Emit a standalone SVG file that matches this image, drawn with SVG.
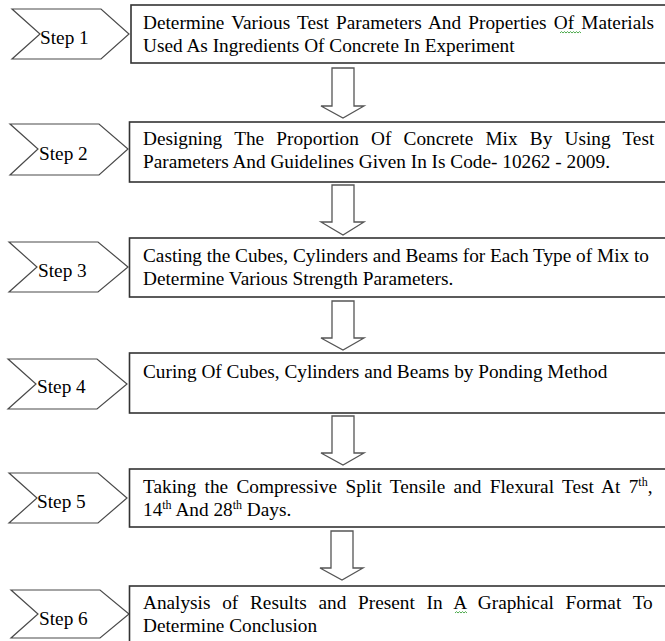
<svg xmlns="http://www.w3.org/2000/svg" width="665" height="641" viewBox="0 0 665 641">
<style>
  .chev { fill: #ffffff; stroke: #4a4a4a; stroke-width: 1.2; stroke-linejoin: miter; }
  .box { fill: #ffffff; stroke: #333333; stroke-width: 1.6; }
  .arrow { fill: #ffffff; stroke: #555555; stroke-width: 1.3; stroke-linejoin: miter; }
  .t { font-family: "Liberation Serif", "Times New Roman", serif; font-size: 19.3px; fill: #000000; }
  .sup { font-size: 12px; }
  .squig { fill: none; stroke: #3aa03a; stroke-width: 0.9; }
</style>
<rect x="0" y="0" width="665" height="641" fill="#ffffff"/>

<g id="connectors">
  <path class="arrow" d="M332,68 H354 V106 H364 L343,118 L321,106 H332 Z"/>
  <path class="arrow" d="M332,185 H354 V222 H364 L343,235 L321,222 H332 Z"/>
  <path class="arrow" d="M332,301 H354 V338 H364 L343,350 L321,338 H332 Z"/>
  <path class="arrow" d="M332,416 H354 V453 H364 L343,465 L321,453 H332 Z"/>
  <path class="arrow" d="M331,531 H353 V568 H363 L342,580 L320,568 H331 Z"/>
</g>

<g id="step1">
  <polygon class="chev" points="12,9 101,9 129,34 101,59 12,59 40,34"/>
  <text class="t" x="40" y="44">Step 1</text>
  <rect class="box" x="131" y="5" width="545" height="58"/>
  <text class="t" x="143" y="29" word-spacing="2.4">Determine Various Test Parameters And Properties Of Materials</text>
  <polyline class="squig" points="560,33 561.5,31.6 563,33 564.5,31.6 566,33 567.5,31.6 569,33 570.5,31.6 572,33 573.5,31.6 575,33 576.5,31.6 578,33 579.5,31.6 581,33"/>
  <text class="t" x="143" y="52">Used As Ingredients Of Concrete In Experiment</text>
</g>

<g id="step2">
  <polygon class="chev" points="10,124 99,124 128,149 99,175 10,175 38,149"/>
  <text class="t" x="39" y="160">Step 2</text>
  <rect class="box" x="129.5" y="122" width="546" height="60"/>
  <text class="t" x="143" y="145" word-spacing="7.4">Designing The Proportion Of Concrete Mix By Using Test</text>
  <text class="t" x="143" y="168">Parameters And Guidelines Given In Is Code- 10262 - 2009.</text>
</g>

<g id="step3">
  <polygon class="chev" points="9,242 98,242 128,267 98,292 9,292 37,267"/>
  <text class="t" x="38" y="277">Step 3</text>
  <rect class="box" x="129.5" y="238" width="546" height="59"/>
  <text class="t" x="143" y="262">Casting the Cubes, Cylinders and Beams for Each Type of Mix to</text>
  <text class="t" x="143" y="285">Determine Various Strength Parameters.</text>
</g>

<g id="step4">
  <polygon class="chev" points="8,359 97,359 127,384 97,409 8,409 36,384"/>
  <text class="t" x="37" y="393">Step 4</text>
  <rect class="box" x="129.5" y="353" width="546" height="60"/>
  <text class="t" x="143" y="378">Curing Of Cubes, Cylinders and Beams by Ponding Method</text>
</g>

<g id="step5">
  <polygon class="chev" points="9,473 98,473 127,498 98,523 9,523 37,498"/>
  <text class="t" x="37" y="508">Step 5</text>
  <rect class="box" x="129.5" y="469" width="546" height="58"/>
  <text class="t" x="143" y="493" word-spacing="3.5">Taking the Compressive Split Tensile and Flexural Test At 7<tspan class="sup" dy="-7">th</tspan><tspan dy="7">,</tspan></text>
  <text class="t" x="143" y="516">14<tspan class="sup" dy="-7">th</tspan><tspan dy="7"> And 28</tspan><tspan class="sup" dy="-7">th</tspan><tspan dy="7"> Days.</tspan></text>
</g>

<g id="step6">
  <polygon class="chev" points="11,590 100,590 129,614 100,638 11,638 38,614"/>
  <text class="t" x="39" y="625">Step 6</text>
  <rect class="box" x="129.5" y="586" width="546" height="70"/>
  <text class="t" x="143" y="609" word-spacing="6.9">Analysis of Results and Present In A Graphical Format To</text>
  <polyline class="squig" points="455,613 456.5,611.6 458,613 459.5,611.6 461,613 462.5,611.6 464,613 465.5,611.6 467,613"/>
  <text class="t" x="143" y="632">Determine Conclusion</text>
</g>
</svg>
